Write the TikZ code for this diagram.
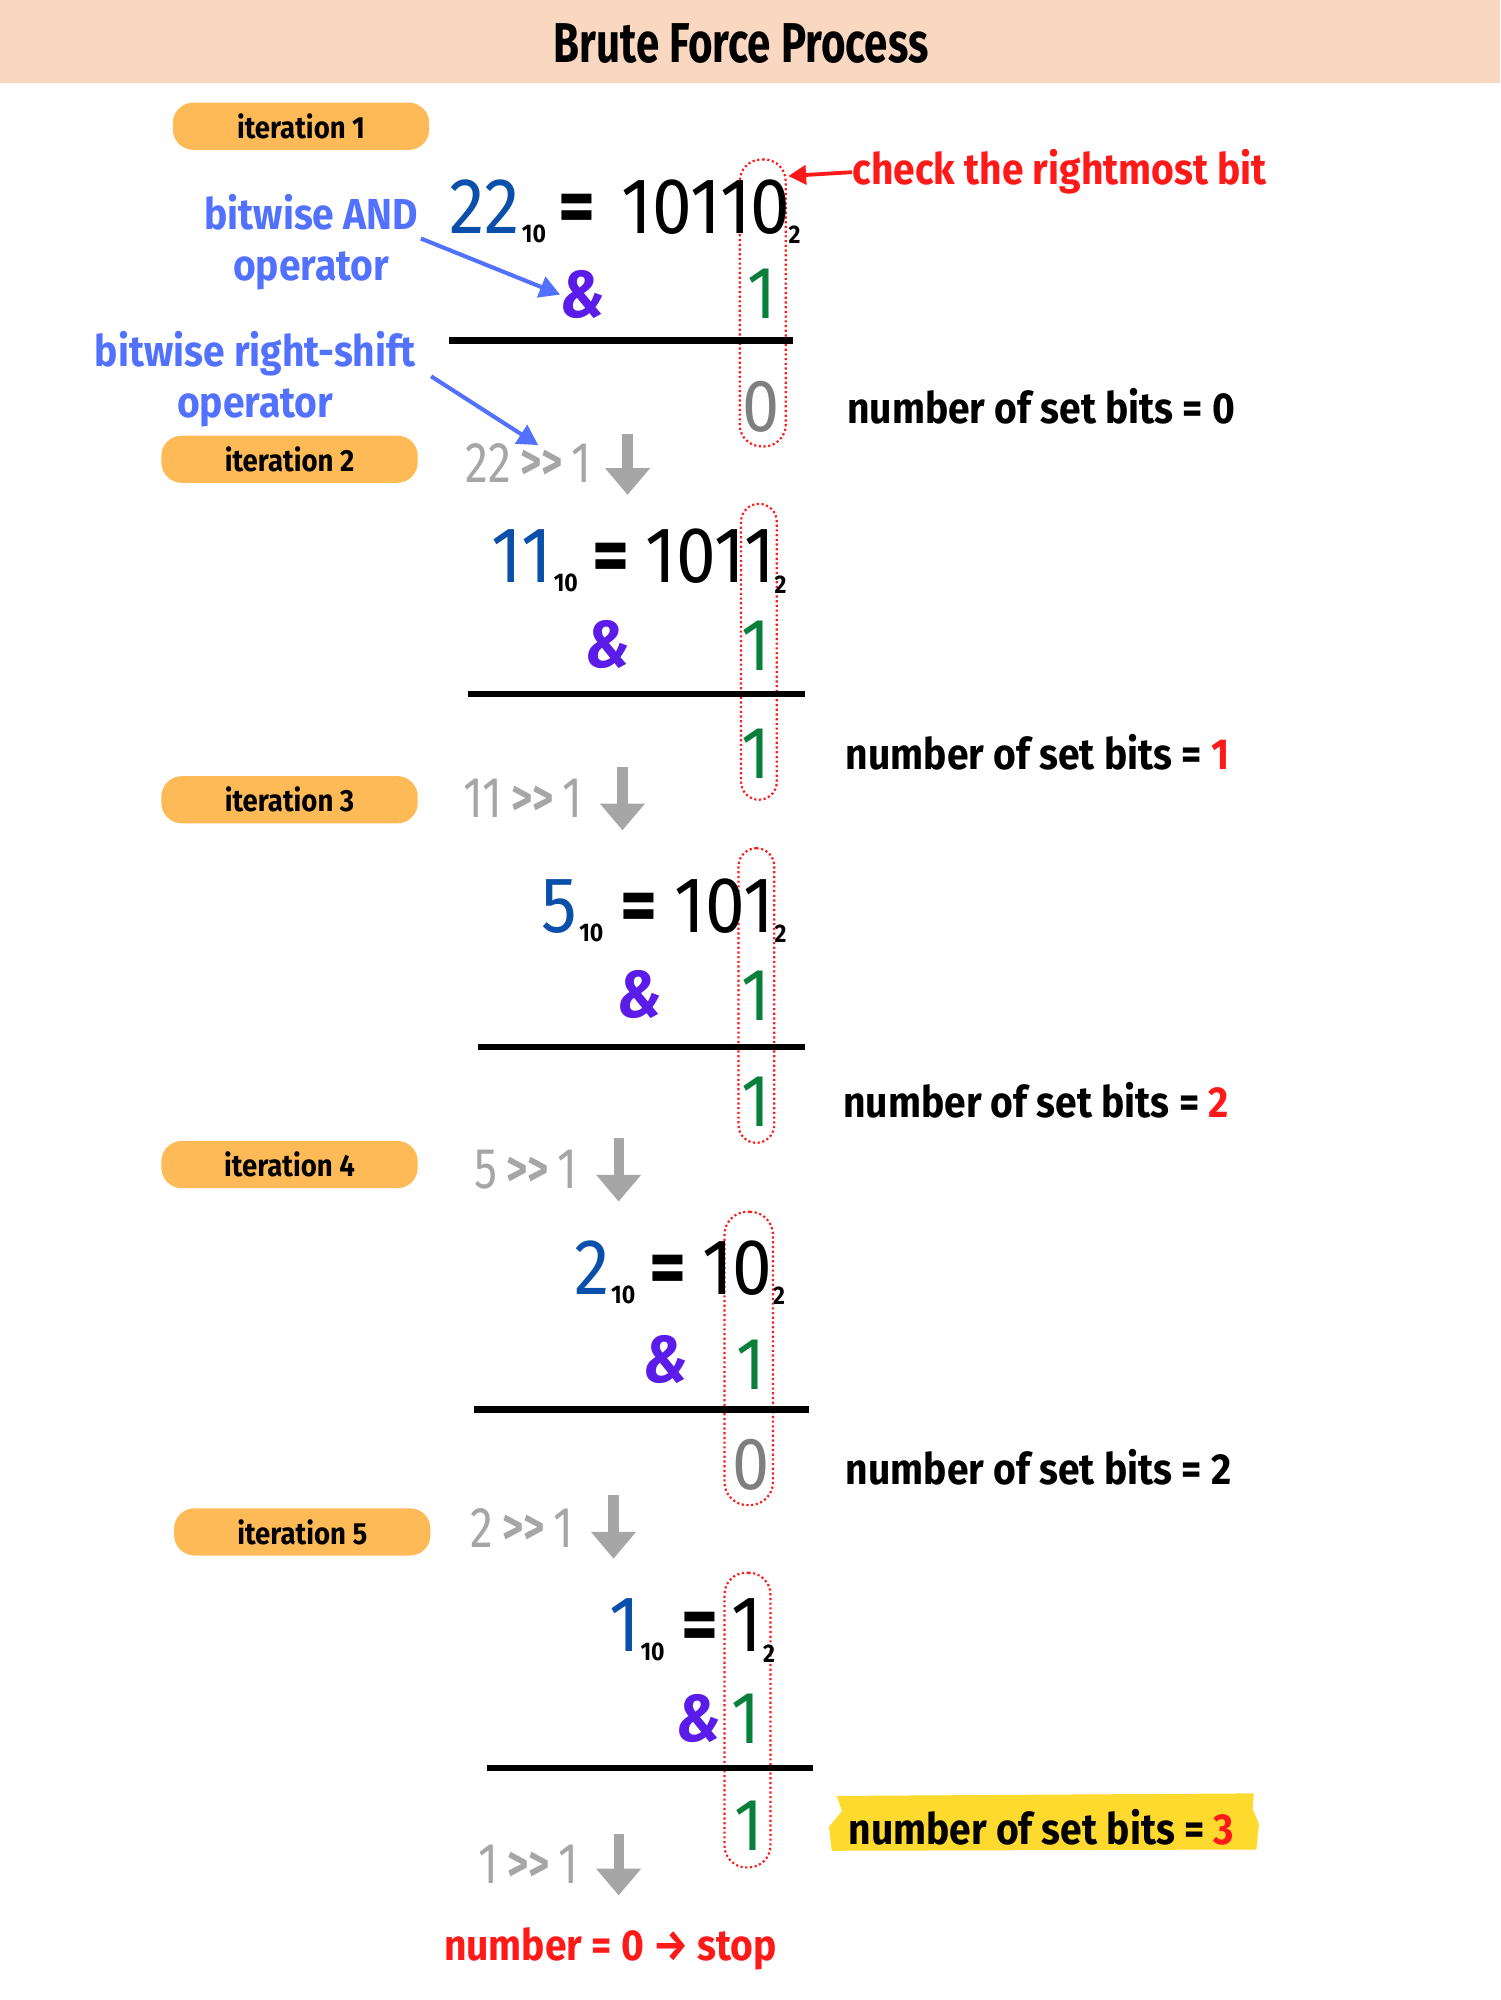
\documentclass[tikz,border=0pt]{standalone}
\usepackage{fontspec}
\usetikzlibrary{arrows.meta,calc}
\newfontfamily\hand[FakeStretch=0.9]{Fira Sans}
\newfontfamily\handtitle[FakeStretch=0.75]{Fira Sans}
\newfontfamily\handnum[FakeStretch=0.9]{Fira Sans}
\newfontfamily\handshift[FakeStretch=0.8]{Fira Sans}
\newcommand{\shr}{\hspace{7pt}\raisebox{2pt}{\fontsize{40}{40}\selectfont\bfseries >\kern0pt{}>}\hspace{7pt}}
\definecolor{peach}{HTML}{F9D7C0}
\definecolor{badgeor}{HTML}{FDBA56}
\definecolor{decblue}{HTML}{0A4FAA}
\definecolor{ampc}{HTML}{5B1BE8}
\definecolor{greenc}{HTML}{0A7F3C}
\definecolor{graytxt}{HTML}{A6A6A6}
\definecolor{darkgray}{HTML}{7F7F7F}
\definecolor{redc}{HTML}{FF1A1A}
\definecolor{noteblue}{HTML}{5271FF}
\definecolor{hiyellow}{HTML}{FFDA2E}
\begin{document}
\begin{tikzpicture}[x=1pt,y=-1pt,
  badge/.style={fill=badgeor, rounded corners=16pt, minimum width=201pt, minimum height=37pt, inner sep=0pt, font=\hand\bfseries\fontsize{24}{24}\selectfont},
  bignum/.style={inner sep=0pt, anchor=base east, font=\handnum\fontsize{62}{62}\selectfont},
  eqsign/.style={inner sep=0pt, anchor=base west, font=\handnum\bfseries\fontsize{62}{62}\selectfont},
  subnum/.style={inner sep=0pt, anchor=base west, font=\handnum\bfseries\fontsize{20}{20}\selectfont},
  ampsym/.style={inner sep=0pt, text=ampc, font=\handnum\bfseries\itshape\fontsize{52}{52}\selectfont},
  bitdigit/.style={inner sep=0pt, anchor=base, font=\handnum\fontsize{58}{58}\selectfont},
  restext/.style={inner sep=0pt, anchor=base west, font=\hand\bfseries\fontsize{34}{34}\selectfont},
  shifttext/.style={inner sep=0pt, anchor=base west, text=graytxt, font=\handshift\fontsize{45}{45}\selectfont},
  bitbox/.style={draw=redc, dotted, line width=1.7pt, inner sep=0pt},
  sumline/.style={line width=5pt},
  downarrow/.style={draw=graytxt, line width=8pt, -{Triangle[length=21pt,width=34pt]}},
  note/.style={inner sep=0pt, text=noteblue, align=center, font=\hand\bfseries\fontsize{34}{40}\selectfont},
  notearrow/.style={draw=noteblue, line width=3.2pt, -{Triangle[length=16pt,width=17pt]}}
]
\useasboundingbox (0,0) rectangle (1176,1568);
% header
\fill[peach] (0,0) rectangle (1176,65);
\node[inner sep=0pt, font=\handtitle\bfseries\fontsize{44}{44}\selectfont] (title) at (581,34) {Brute Force Process};

% badges
\node[badge] (it1) at (236,99) {iteration 1};
\node[badge] (it2) at (227,360) {iteration 2};
\node[badge] (it3) at (227,627) {iteration 3};
\node[badge] (it4) at (227,913) {iteration 4};
\node[badge] (it5) at (237,1201) {iteration 5};

% ---------- iteration 1
\node[bitbox, rounded corners=17pt, minimum width=36pt, minimum height=225pt] (box1) at (598,237.5) {};
\node[bignum, text=decblue] (d1) at (408,183) {22};
\node[subnum] (s1) at ($(d1.base east)+(1,7)$) {10};
\node[eqsign] (e1) at (438,183) {=};
\node[bignum] (b1) at (620,183) {10110};
\node[subnum] (t1) at ($(b1.base east)+(-2,8)$) {2};
\node[ampsym] (a1) at (457,231) {\&};
\node[bitdigit, text=greenc] (g1) at (597,250) {1};
\coordinate (l1a) at (352,267); \coordinate (l1b) at (622,267);
\draw[sumline] (l1a) -- (l1b);
\node[bitdigit, text=darkgray] (r1) at (597,338) {0};
\node[restext] (n1) at (664,332) {number of set bits = 0};
\node[shifttext] (sh1) at (365,378) {22\shr1};
\coordinate (dw1a) at (492,340); \coordinate (dw1b) at (492,388);
\draw[downarrow] (dw1a) -- (dw1b);

% annotations
\node[inner sep=0pt, anchor=base west, text=redc, font=\hand\bfseries\fontsize{34}{34}\selectfont] (chk) at (668,145) {check the rightmost bit};
\coordinate (chktip) at (618,138);
\draw[draw=redc, line width=3pt, -{Triangle[length=14pt,width=15pt]}] (chk.west) -- (chktip);
\node[note] (andnote) at (244,190) {bitwise AND\\operator};
\coordinate (andtail) at (330,187);
\draw[notearrow] (andtail) -- (a1.west);
\node[note] (rsnote) at (200,297) {bitwise right-shift\\operator};
\coordinate (rstail) at (338,295); \coordinate (rstip) at (422,349);
\draw[notearrow] (rstail) -- (rstip);

% ---------- iteration 2
\node[bitbox, rounded corners=14pt, minimum width=28pt, minimum height=232pt] (box2) at (595,511) {};
\node[bignum, text=decblue] (d2) at (433,457) {11};
\node[subnum] (s2) at ($(d2.base east)+(1,7)$) {10};
\node[eqsign] (e2) at (464,457) {=};
\node[bignum] (b2) at (608,457) {1011};
\node[subnum] (t2) at ($(b2.base east)+(-1,8)$) {2};
\node[ampsym] (a2) at (477,505) {\&};
\node[bitdigit, text=greenc] (g2) at (593,526) {1};
\coordinate (l2a) at (367,544); \coordinate (l2b) at (631,544);
\draw[sumline] (l2a) -- (l2b);
\node[bitdigit, text=greenc] (r2) at (593,610) {1};
\node[restext] (n2) at (663,603) {number of set bits = \textcolor{redc}{1}};
\node[shifttext] (sh2) at (363,641) {11\shr1};
\coordinate (dw2a) at (488,601); \coordinate (dw2b) at (488,651);
\draw[downarrow] (dw2a) -- (dw2b);

% ---------- iteration 3
\node[bitbox, rounded corners=14pt, minimum width=28pt, minimum height=231pt] (box3) at (593,780.5) {};
\node[bignum, text=decblue] (d3) at (453,731) {5};
\node[subnum] (s3) at ($(d3.base east)+(1,7)$) {10};
\node[eqsign] (e3) at (486,731) {=};
\node[bignum] (b3) at (607,731) {101};
\node[subnum] (t3) at ($(b3.base east)+(0,8)$) {2};
\node[ampsym] (a3) at (502,780) {\&};
\node[bitdigit, text=greenc] (g3) at (593,800) {1};
\coordinate (l3a) at (375,821); \coordinate (l3b) at (631,821);
\draw[sumline] (l3a) -- (l3b);
\node[bitdigit, text=greenc] (r3) at (593,883) {1};
\node[restext] (n3) at (661,876) {number of set bits = \textcolor{redc}{2}};
\node[shifttext] (sh3) at (372,932) {5\shr1};
\coordinate (dw3a) at (485,892); \coordinate (dw3b) at (485,942);
\draw[downarrow] (dw3a) -- (dw3b);

% ---------- iteration 4
\node[bitbox, rounded corners=18pt, minimum width=38pt, minimum height=230pt] (box4) at (587,1065) {};
\node[bignum, text=decblue] (d4) at (478,1015) {2};
\node[subnum] (s4) at ($(d4.base east)+(1,7)$) {10};
\node[eqsign] (e4) at (509,1015) {=};
\node[bignum] (b4) at (606,1015) {10};
\node[subnum] (t4) at ($(b4.base east)+(0,8)$) {2};
\node[ampsym] (a4) at (522,1066) {\&};
\node[bitdigit, text=greenc] (g4) at (589,1089) {1};
\coordinate (l4a) at (372,1105); \coordinate (l4b) at (634,1105);
\draw[sumline] (l4a) -- (l4b);
\node[bitdigit, text=darkgray] (r4) at (589,1168) {0};
\node[restext] (n4) at (663,1164) {number of set bits = 2};
\node[shifttext] (sh4) at (369,1213) {2\shr1};
\coordinate (dw4a) at (481,1172); \coordinate (dw4b) at (481,1222);
\draw[downarrow] (dw4a) -- (dw4b);

% ---------- iteration 5
\node[bitbox, rounded corners=17pt, minimum width=36pt, minimum height=231pt] (box5) at (586,1348.5) {};
\node[bignum, text=decblue] (d5) at (502,1295) {1};
\node[subnum] (s5) at ($(d5.base east)+(0,7)$) {10};
\node[eqsign] (e5) at (534,1295) {=};
\node[bignum] (b5) at (598,1295) {1};
\node[subnum] (t5) at ($(b5.base east)+(0,8)$) {2};
\node[ampsym] (a5) at (548,1347) {\&};
\node[bitdigit, text=greenc] (g5) at (585,1367) {1};
\coordinate (l5a) at (382,1386); \coordinate (l5b) at (637,1386);
\draw[sumline] (l5a) -- (l5b);
\node[bitdigit, text=greenc] (r5) at (587,1451) {1};
\fill[hiyellow] (656,1408) -- (983,1406) -- (982,1418) -- (987,1430) -- (985,1450) -- (652,1451) -- (650,1432) -- (660,1420) -- cycle;
\node[restext] (n5) at (665,1446) {number of set bits = \textcolor{redc}{3}};
\node[shifttext] (sh5) at (375,1477) {1\shr1};
\coordinate (dw5a) at (485,1438); \coordinate (dw5b) at (485,1486);
\draw[downarrow] (dw5a) -- (dw5b);

\node[inner sep=0pt, anchor=base west, text=redc, font=\hand\bfseries\fontsize{34}{34}\selectfont] (stop) at (348,1537) {number = 0 → stop};
\end{tikzpicture}
\end{document}
